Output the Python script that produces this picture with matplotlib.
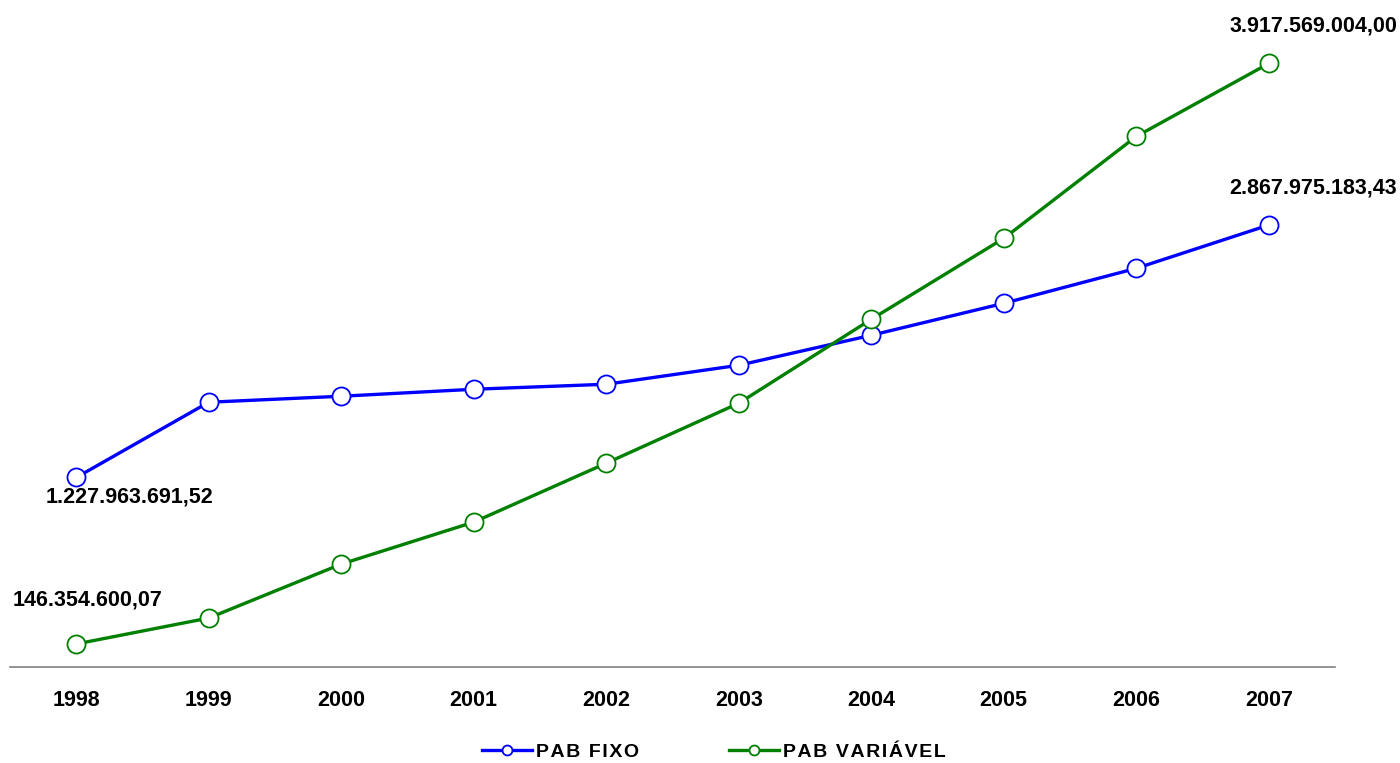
import matplotlib.pyplot as plt
import numpy as np

anos = ['1998', '1999', '2000', '2001', '2002', '2003', '2004', '2005', '2006', '2007']
# valores em milhões de reais
pab_fixo = [1227.96, 1716.9, 1755.8, 1801.2, 1833.7, 1957.0, 2151.8, 2359.5, 2586.7, 2867.98]
pab_variavel = [146.35, 314.8, 665.3, 938.0, 1320.9, 1710.4, 2255.6, 2781.4, 3443.5, 3917.57]
rotulos = {
    ('fixo', 0): '1.227.963.691,52',
    ('fixo', 9): '2.867.975.183,43',
    ('var', 0): '146.354.600,07',
    ('var', 9): '3.917.569.004,00',
}


def espacado(txt):
    # letras levemente separadas (hair space)
    return '\u200a'.join(txt)


plt.rcParams['font.family'] = ['Liberation Sans', 'DejaVu Sans']

fig = plt.figure(figsize=(14, 7.63), dpi=100)
ax = fig.add_axes([10 / 1400, 1 - 666.5 / 763, 1325 / 1400, 666.5 / 763])

x = np.arange(len(anos))
ax.plot(x, pab_fixo, color='#0000ff', lw=2.4, marker='o', ms=13,
        mfc='white', mec='#0000ff', mew=1.3, label=espacado('PAB FIXO'), zorder=3)
ax.plot(x, pab_variavel, color='#008000', lw=2.4, marker='o', ms=13,
        mfc='white', mec='#008000', mew=1.3, label=espacado('PAB VARIÁVEL'), zorder=4)

fonte = dict(fontsize=15.5, fontweight='bold', ha='center', va='center')
ax.annotate(rotulos[('fixo', 0)], (0, pab_fixo[0]), xytext=(38, -14),
            textcoords='offset points', **fonte)
ax.annotate(rotulos[('var', 0)], (0, pab_variavel[0]), xytext=(8, 32),
            textcoords='offset points', **fonte)
ax.annotate(rotulos[('var', 9)], (9, pab_variavel[9]), xytext=(32, 27),
            textcoords='offset points', **fonte)
ax.annotate(rotulos[('fixo', 9)], (9, pab_fixo[9]), xytext=(32, 27),
            textcoords='offset points', **fonte)

ax.set_xlim(-0.5, 9.5)
ax.set_ylim(0, 4330)
ax.set_xticks(x)
ax.set_xticklabels(anos, fontsize=15.5, fontweight='bold')
ax.tick_params(axis='x', length=0, pad=17)
ax.set_yticks([])
for s in ['top', 'right', 'left']:
    ax.spines[s].set_visible(False)
ax.spines['bottom'].set_color('#808080')
ax.spines['bottom'].set_linewidth(1.2)

leg = fig.legend(loc='center', bbox_to_anchor=(714 / 1400, 1 - 752 / 763), ncol=2,
                 frameon=False, markerscale=0.55, handlelength=2.6, columnspacing=4.6,
                 handletextpad=0.2, prop={'size': 14, 'weight': 'bold'})

fig.savefig('out.png', dpi=100, facecolor='white')
